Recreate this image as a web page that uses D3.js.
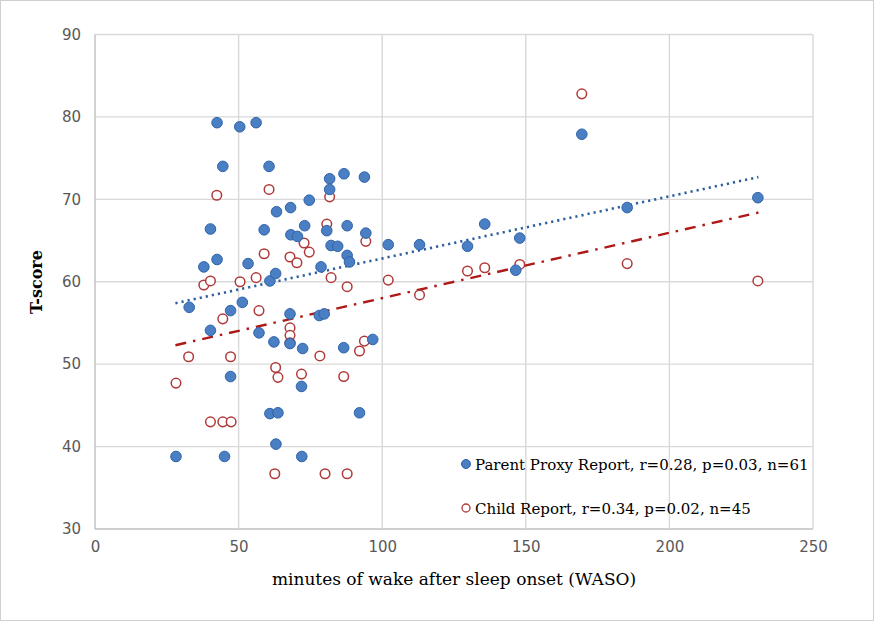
<!DOCTYPE html>
<html><head><meta charset="utf-8">
<script src="https://cdn.jsdelivr.net/npm/d3@7/dist/d3.min.js"></script>
<style>body{margin:0;background:#fff}svg{display:block}</style>
</head><body>
<svg id="c" width="874" height="621"></svg>
<script>
const xTicks=[0,50,100,150,200,250];
const yTicks=[30,40,50,60,70,80,90];
const parentX=[42.5,50.4,56.1,44.5,60.6,40.2,58.9,81.7,86.7,93.8,81.7,74.6,63.2,68.1,73.0,80.7,87.8,94.3,68.2,70.5,82.2,84.5,37.9,42.5,53.3,60.9,62.9,32.8,51.3,47.2,40.2,57.1,47.2,78.7,87.8,88.6,67.9,78.1,79.8,67.9,62.3,72.3,86.6,96.7,71.9,60.9,63.7,92.1,63.0,28.2,45.1,72.0,102.1,113.0,129.7,135.7,147.9,146.5,185.3,230.8,169.5];
const parentY=[79.3,78.8,79.3,74.0,74.0,66.4,66.3,72.5,73.1,72.7,71.2,69.9,68.5,69.0,66.8,66.2,66.8,65.9,65.7,65.5,64.4,64.3,61.8,62.7,62.2,60.1,61.0,56.9,57.5,56.5,54.1,53.8,48.5,61.8,63.2,62.4,56.1,55.9,56.1,52.5,52.7,51.9,52.0,53.0,47.3,44.0,44.1,44.1,40.3,38.8,38.8,38.8,64.5,64.5,64.3,67.0,65.3,61.4,69.0,70.2,77.9];
const childX=[42.4,60.6,81.7,80.7,94.3,72.8,74.6,58.9,37.9,40.2,50.5,56.1,57.1,44.5,32.6,47.2,28.2,67.9,70.3,82.2,87.8,67.9,67.9,67.9,78.3,93.8,92.1,62.9,63.7,71.9,86.6,40.2,44.5,47.4,62.6,80.1,87.8,102.1,113.0,129.7,135.7,147.9,185.3,230.8,169.5];
const childY=[70.5,71.2,70.3,67.0,64.9,64.7,63.6,63.4,59.6,60.1,60.0,60.5,56.5,55.5,50.9,50.9,47.7,63.0,62.3,60.5,59.4,54.4,53.5,52.6,51.0,52.8,51.6,49.6,48.4,48.8,48.5,43.0,43.0,43.0,36.7,36.7,36.7,60.2,58.4,61.3,61.7,62.1,62.2,60.1,82.8];
const parentTrendX=[28,231], parentTrendY=[57.4,72.7];
const childTrendX=[28,231], childTrendY=[52.3,68.4];
const legendLabels=["Parent Proxy Report, r=0.28, p=0.03, n=61","Child Report, r=0.34, p=0.02, n=45"];

const svg=d3.select("#c");
svg.append("rect").attr("x",0.5).attr("y",0.5).attr("width",873).attr("height",620).attr("fill","#fff").attr("stroke","#d0d0d0");
const L=95,R=813,T=34.5,B=529;
const x=d3.scaleLinear().domain([0,250]).range([L,R]);
const y=d3.scaleLinear().domain([30,90]).range([B,T]);

// grid
svg.append("g").selectAll("line").data(yTicks).join("line")
 .attr("x1",L).attr("x2",R).attr("y1",d=>y(d)).attr("y2",d=>y(d))
 .attr("stroke",d=>d===30?"#bfbfbf":"#d9d9d9").attr("stroke-width",1.4);
svg.append("g").selectAll("line").data(xTicks).join("line")
 .attr("y1",T).attr("y2",B).attr("x1",d=>x(d)).attr("x2",d=>x(d))
 .attr("stroke",d=>d===0?"#bfbfbf":"#d9d9d9").attr("stroke-width",1.4);

// axes via d3
const ya=svg.append("g").attr("transform",`translate(${L},0)`).call(d3.axisLeft(y).tickValues(yTicks).tickSize(0).tickPadding(14));
const xa=svg.append("g").attr("transform",`translate(0,${B})`).call(d3.axisBottom(x).tickValues(xTicks).tickSize(0).tickPadding(12));
[ya,xa].forEach(a=>{a.select(".domain").remove();a.selectAll("text").attr("font-family","DejaVu Sans, Verdana, sans-serif").attr("font-size",15).attr("fill","#595959");});

// trend lines
const line=d3.line().x(d=>x(d[0])).y(d=>y(d[1]));
svg.append("path").attr("d",line(d3.zip(parentTrendX,parentTrendY))).attr("fill","none")
 .attr("stroke","#2e5f9e").attr("stroke-width",2.6).attr("stroke-dasharray","2.2,4").attr("stroke-linecap","butt");
svg.append("path").attr("d",line(d3.zip(childTrendX,childTrendY))).attr("fill","none")
 .attr("stroke","#b01818").attr("stroke-width",2.4).attr("stroke-dasharray","11,7,2.5,7");

// points
svg.append("g").selectAll("circle").data(d3.zip(childX,childY)).join("circle")
 .attr("cx",d=>x(d[0])).attr("cy",d=>y(d[1])).attr("r",4.8)
 .attr("fill","#fff").attr("stroke","#b03a3a").attr("stroke-width",1.5);
svg.append("g").selectAll("circle").data(d3.zip(parentX,parentY)).join("circle")
 .attr("cx",d=>x(d[0])).attr("cy",d=>y(d[1])).attr("r",5.3)
 .attr("fill","#4a7fc4").attr("stroke","#2f63a8").attr("stroke-width",1);

// titles
svg.append("text").attr("x",(L+R)/2).attr("y",585).attr("text-anchor","middle")
 .attr("font-family","DejaVu Serif, serif").attr("font-size",17).attr("fill","#000")
 .text("minutes of wake after sleep onset (WASO)");
svg.append("text").attr("transform","translate(42,282) rotate(-90)").attr("text-anchor","middle")
 .attr("font-family","DejaVu Serif, serif").attr("font-weight","bold").attr("font-size",16).attr("fill","#000")
 .text("T-score");

// legend
const lg=svg.append("g");
legendLabels.forEach((t,i)=>{
  const cy=464+i*44;
  const c=lg.append("circle").attr("cx",466).attr("cy",cy).attr("r",i===0?4.5:4);
  if(i===0) c.attr("fill","#4a7fc4").attr("stroke","#2f63a8");
  else c.attr("fill","#fff").attr("stroke","#b03a3a").attr("stroke-width",1.3);
  lg.append("text").attr("x",475).attr("y",cy+5.5).attr("font-family","DejaVu Serif, serif")
   .attr("font-size",15).attr("fill","#000").text(t);
});
</script>
</body></html>
